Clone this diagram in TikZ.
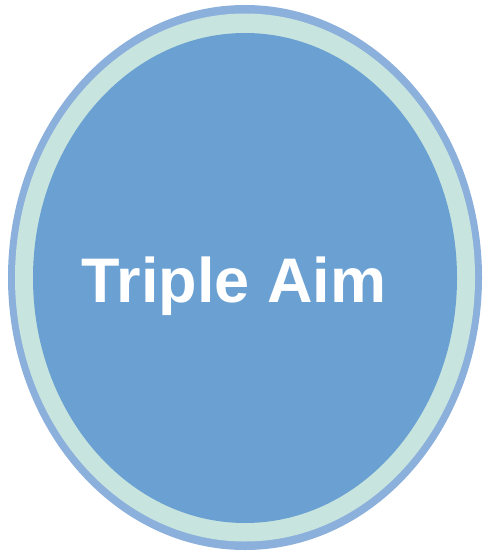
\documentclass[tikz,border=0pt]{standalone}
\usepackage{fontspec}
\setmainfont{Liberation Sans}
\usepackage{tikz}
\usetikzlibrary{positioning}
\usepackage{xcolor}

\definecolor{ringblue}{RGB}{140,176,220}
\definecolor{bandgreen}{RGB}{200,228,222}
\definecolor{aimblue}{RGB}{106,160,210}

\begin{document}
\begin{tikzpicture}[x=1pt,y=-1pt]
            \useasboundingbox (0,0) rectangle (490,556);
            % Outer ring
            \fill[ringblue] (245,277.5) ellipse [x radius=237, y radius=272.5];
            \fill[bandgreen] (245,277.5) ellipse [x radius=230, y radius=264];
            % Inner disc
            \fill[aimblue] (245,278) ellipse [x radius=212, y radius=245];
            % Label
            \node[anchor=base, text=white, font=\bfseries\fontsize{63}{70}\selectfont, inner sep=0pt] (aim) at (234,302) {Triple Aim};
        \end{tikzpicture}
\end{document}
